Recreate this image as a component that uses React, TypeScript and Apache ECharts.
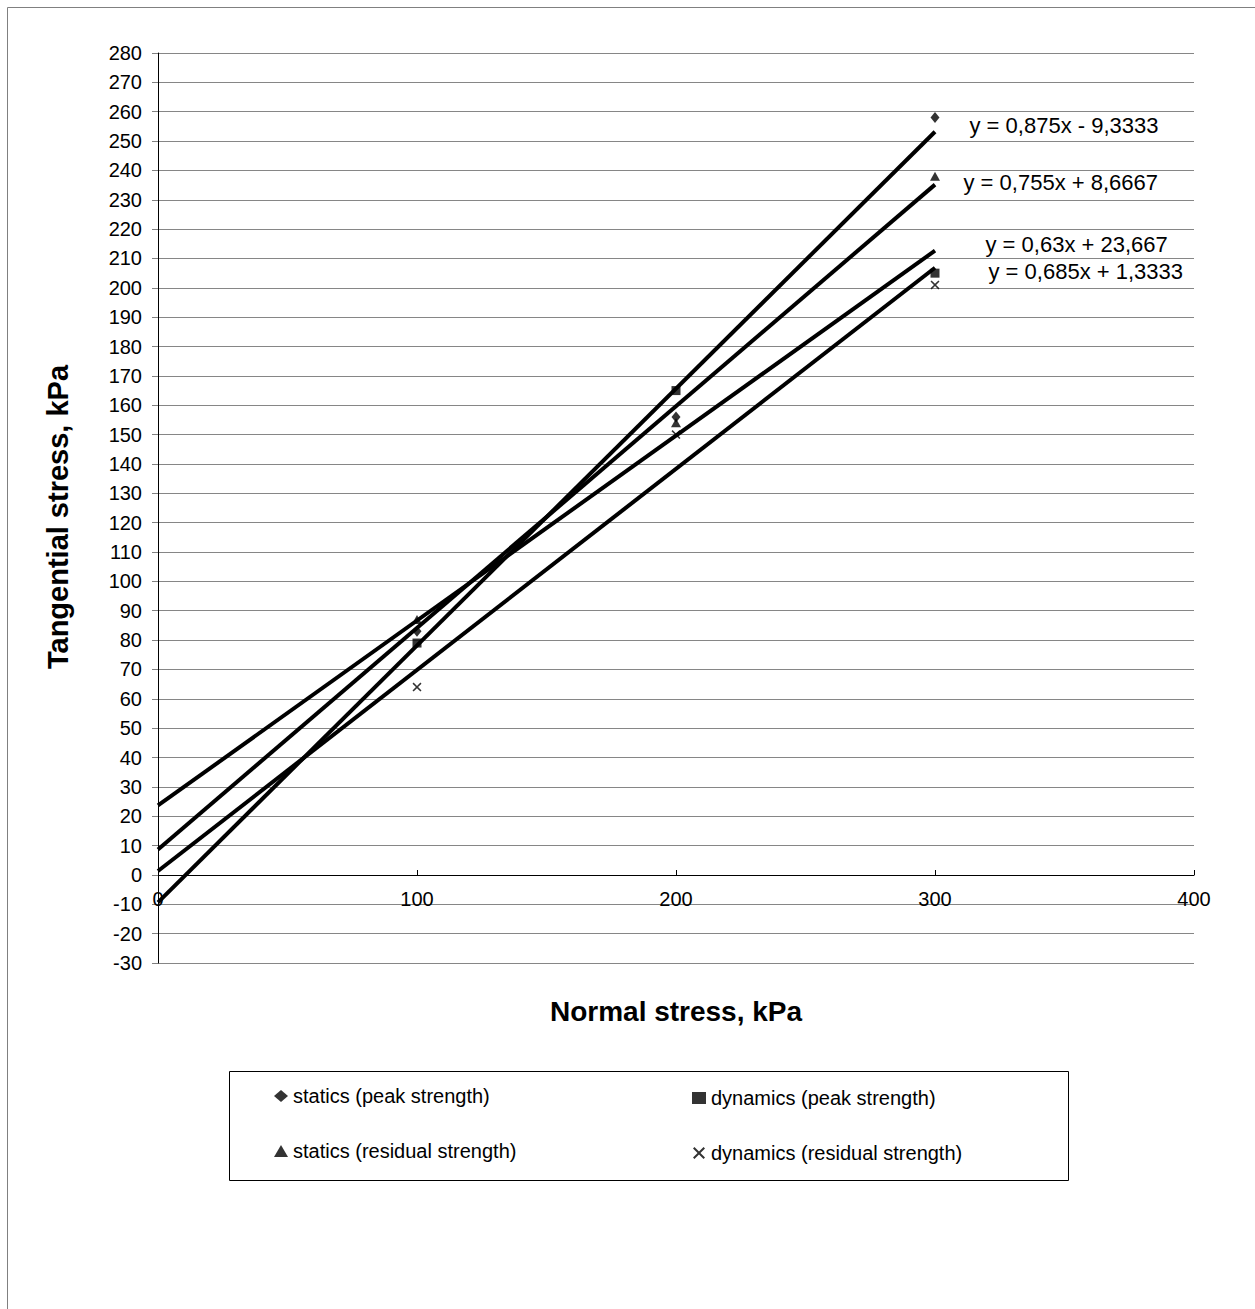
import React, { useEffect, useRef } from "react";
import * as echarts from "echarts";

const normalStress = [100, 200, 300];
const staticsPeak = [83, 156, 258];
const staticsResidual = [87, 154, 238];
const dynamicsPeak = [79, 165, 205];
const dynamicsResidual = [64, 150, 201];

const trendSlopes = [0.875, 0.755, 0.63, 0.685];
const trendIntercepts = [-9.3333, 8.6667, 23.667, 1.3333];
const trendLabels = [
  "y = 0,875x - 9,3333",
  "y = 0,755x + 8,6667",
  "y = 0,63x + 23,667",
  "y = 0,685x + 1,3333",
];
const trendRange = [0, 300];

const seriesNames = [
  "statics (peak strength)",
  "dynamics (peak strength)",
  "statics (residual strength)",
  "dynamics (residual strength)",
];

const FONT = "'Liberation Sans', Arial, sans-serif";
const CROSS =
  "path://M0 0.12 L0.12 0 L0.5 0.38 L0.88 0 L1 0.12 L0.62 0.5 L1 0.88 L0.88 1 L0.5 0.62 L0.12 1 L0 0.88 L0.38 0.5 Z";

const labelOffsets = [
  [34, -6],
  [28, -2],
  [50, -6],
  [53, 4],
];

export default function App() {
  const ref = useRef<HTMLDivElement>(null);
  useEffect(() => {
    if (!ref.current) return;
    const chart = echarts.init(ref.current, null, { renderer: "svg" });
    const pts = (ys: number[]) => normalStress.map((x, i) => [x, ys[i]]);
    const scatter = (name: string, ys: number[], symbol: string, size: any) => ({
      type: "scatter",
      name,
      data: pts(ys),
      symbol,
      symbolSize: size,
      itemStyle: { color: "#000" },
      z: 5,
    });
    const trends = trendSlopes.map((m, i) => ({
      type: "line",
      name: "trend" + i,
      showSymbol: true,
      symbol: "circle",
      symbolSize: 1,
      itemStyle: { color: "rgba(0,0,0,0)" },
      lineStyle: { color: "#000", width: 4 },
      data: [
        [trendRange[0], m * trendRange[0] + trendIntercepts[i]],
        {
          value: [trendRange[1], m * trendRange[1] + trendIntercepts[i]],
          label: {
            show: true,
            position: "right",
            distance: 0,
            offset: labelOffsets[i],
            formatter: trendLabels[i],
            fontSize: 22,
            fontFamily: FONT,
            color: "#000",
          },
        },
      ],
      z: 3,
    }));
    chart.setOption({
      animation: false,
      backgroundColor: "#fff",
      grid: { left: 158, right: 61, top: 53, bottom: 346, containLabel: false },
      xAxis: {
        type: "value",
        min: 0,
        max: 400,
        interval: 100,
        offset: -88,
        name: "Normal stress, kPa",
        nameLocation: "middle",
        nameGap: 122,
        nameTextStyle: { fontSize: 28, fontWeight: "bold", fontFamily: FONT, color: "#000" },
        axisLine: { onZero: false, lineStyle: { color: "#000", width: 1 } },
        axisTick: { show: true, inside: true, length: 5, lineStyle: { color: "#000" } },
        axisLabel: { fontSize: 20, fontFamily: FONT, color: "#000", margin: 14 },
        splitLine: { show: false },
      },
      yAxis: {
        type: "value",
        min: -30,
        max: 280,
        interval: 10,
        name: "Tangential stress, kPa",
        nameLocation: "middle",
        nameGap: 86,
        nameTextStyle: {
          fontSize: 29,
          fontWeight: "bold",
          fontFamily: FONT,
          color: "#000",
          padding: [0, 18, 0, 0],
        },
        axisLine: { show: true, lineStyle: { color: "#000", width: 1 } },
        axisTick: { show: true, length: 6, lineStyle: { color: "#808080" } },
        axisLabel: { fontSize: 20, fontFamily: FONT, color: "#000", margin: 16 },
        splitLine: { show: true, lineStyle: { color: "#868686", width: 1 } },
      },
      legend: [
        {
          data: [seriesNames[0], seriesNames[2]],
          orient: "vertical",
          left: 269,
          top: 1081,
          itemGap: 35,
          itemWidth: 14,
          itemHeight: 12,
          textStyle: { fontSize: 20, fontFamily: FONT, color: "#000" },
        },
        {
          data: [seriesNames[1], seriesNames[3]],
          orient: "vertical",
          left: 687,
          top: 1083,
          itemGap: 35,
          itemWidth: 14,
          itemHeight: 12,
          textStyle: { fontSize: 20, fontFamily: FONT, color: "#000" },
        },
      ],
      graphic: [
        {
          type: "rect",
          shape: { x: 7.5, y: 7.5, width: 1400, height: 1400 },
          style: { fill: "none", stroke: "#808080", lineWidth: 1 },
          silent: true,
        },
        {
          type: "rect",
          shape: { x: 229.5, y: 1071.5, width: 839, height: 109 },
          style: { fill: "none", stroke: "#000", lineWidth: 1 },
          silent: true,
        },
      ],
      series: [
        ...trends,
        scatter(seriesNames[0], staticsPeak, "diamond", [9, 11]),
        scatter(seriesNames[1], dynamicsPeak, "rect", 9),
        scatter(seriesNames[2], staticsResidual, "triangle", [10, 9]),
        scatter(seriesNames[3], dynamicsResidual, CROSS, 9),
      ],
    });
    return () => chart.dispose();
  }, []);
  return (
    <div
      ref={ref}
      style={{ position: "absolute", left: 0, top: 0, width: 1255, height: 1309 }}
    />
  );
}
